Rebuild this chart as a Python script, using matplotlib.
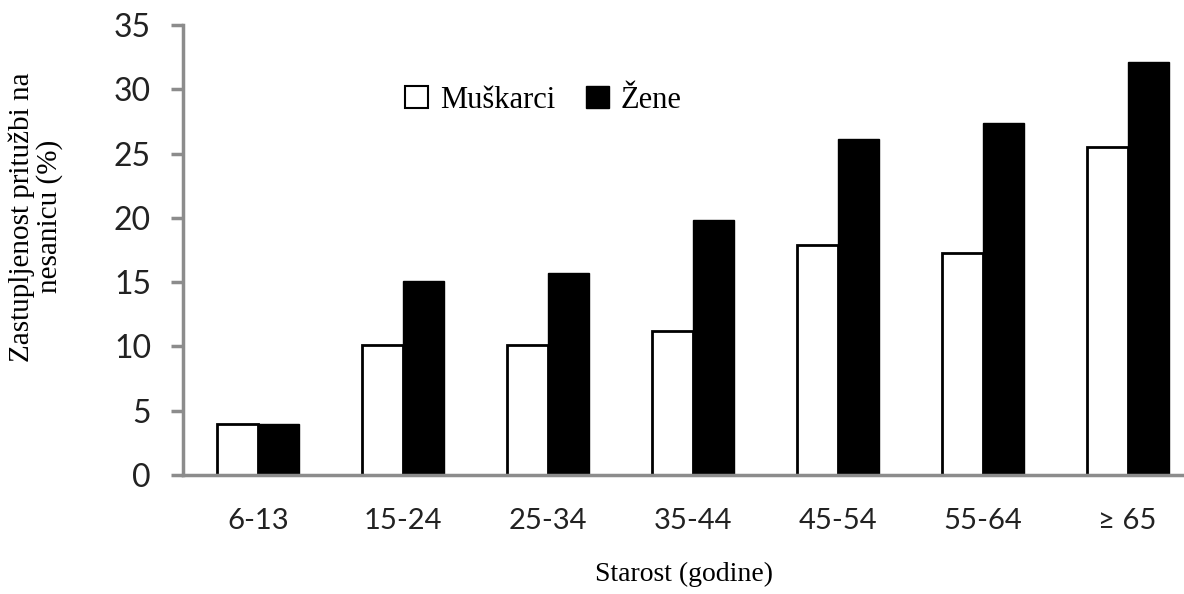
import numpy as np
import matplotlib.pyplot as plt
from matplotlib.patches import Patch

categories = ['6-13', '15-24', '25-34', '35-44', '45-54', '55-64', '≥ 65']
muskarci = [4.0, 10.1, 10.1, 11.2, 17.9, 17.3, 25.5]
zene = [4.0, 15.1, 15.7, 19.8, 26.1, 27.4, 32.1]
yticks = [0, 5, 10, 15, 20, 25, 30, 35]

fig = plt.figure(figsize=(11.84, 5.94), dpi=100)
ax = fig.add_axes([0.1546, 0.2003, 0.8454, 0.7577])

x = np.arange(len(categories))
w = 0.283
ax.bar(x - w/2, muskarci, w, color='white', edgecolor='black', linewidth=2)
ax.bar(x + w/2, zene, w, color='black', edgecolor='black', linewidth=1)

ax.set_xlim(-0.52, 6.39)
ax.set_ylim(0, 35)
ax.set_yticks(yticks)
ax.set_xticks(x)
ax.set_xticklabels(categories)

for s in ['top', 'right']:
    ax.spines[s].set_visible(False)
for s in ['left', 'bottom']:
    ax.spines[s].set_color('#8c8c8c')
    ax.spines[s].set_linewidth(2.5)

ax.tick_params(axis='y', direction='out', length=9, width=2.5, color='#8c8c8c',
               labelsize=23, pad=14, labelcolor='#222222')
ax.tick_params(axis='x', length=0, labelsize=21, pad=24, labelcolor='#222222')
for lab in ax.get_xticklabels() + ax.get_yticklabels():
    lab.set_family(['Lato', 'DejaVu Sans'])

ax.set_xlabel('Starost (godine)', family='Liberation Serif', fontsize=20, labelpad=20)
fig.text(0.030, 0.635, 'Zastupljenost pritužbi na\nnesanicu (%)', family='Liberation Serif',
         fontsize=21, rotation=90, ha='center', va='center', linespacing=1.05)

handles = [Patch(facecolor='white', edgecolor='black', linewidth=1.5),
           Patch(facecolor='black', edgecolor='black')]
ax.legend(handles, ['Muškarci', 'Žene'], ncol=2, frameon=False,
          prop={'family': 'Liberation Serif', 'size': 22},
          handlelength=0.75, handleheight=0.75, handletextpad=0.4, columnspacing=1.0,
          loc='center', bbox_to_anchor=(0.36, 0.833))

fig.savefig('out.png', dpi=100)
